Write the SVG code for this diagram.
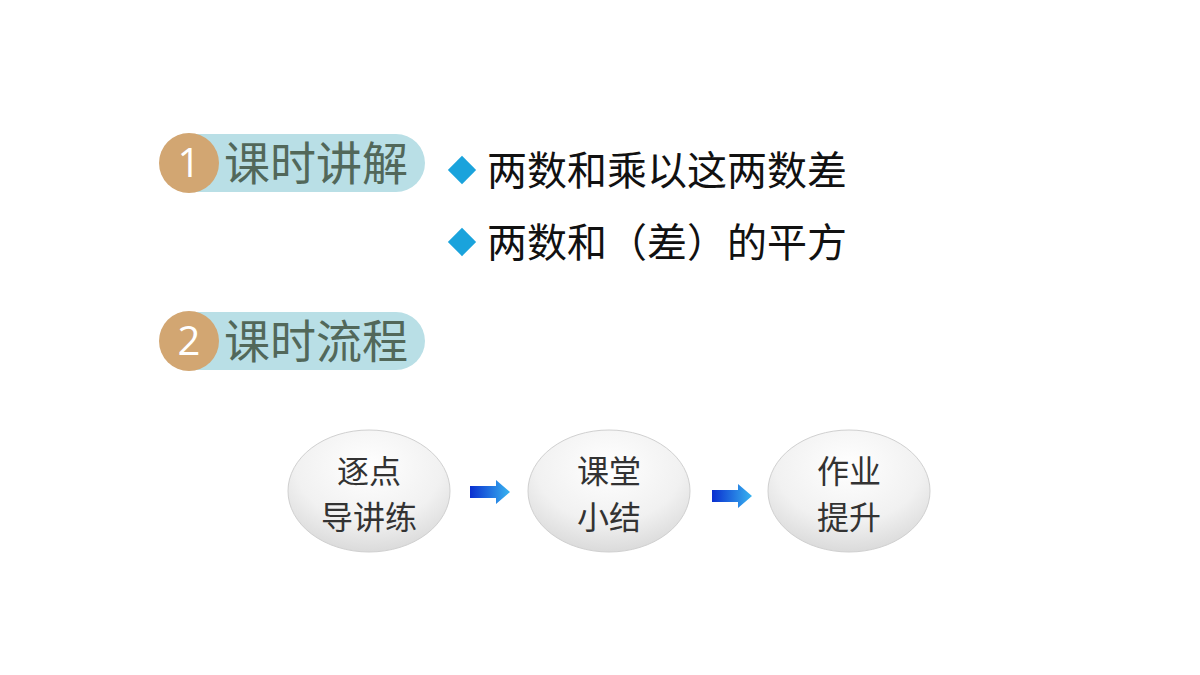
<svg xmlns="http://www.w3.org/2000/svg" width="1200" height="675" viewBox="0 0 1200 675">
<defs>
<style>
.cj{font-family:"Noto Sans CJK SC","Noto Sans",sans-serif}
.h{font-size:46px;fill:#52685a}
.num{font-family:"Open Sans","Liberation Sans",sans-serif;font-size:40px;fill:#fff}
.b{font-size:40px;fill:#111}
.n{font-size:32px;fill:#333;text-anchor:middle}
.pill{fill:#b9dfe6}
.circ{fill:#d2a672}
.dia{fill:#1aa3dc}
.ell{fill:url(#eg);stroke:#d0d0d0;stroke-width:1}
</style>
<radialGradient id="eg" cx="0.5" cy="0.3" r="0.75">
<stop offset="0" stop-color="#ffffff"/>
<stop offset="0.6" stop-color="#f1f1f1"/>
<stop offset="1" stop-color="#d6d6d6"/>
</radialGradient>
<linearGradient id="ag" x1="0" x2="1" y1="0" y2="0">
<stop offset="0" stop-color="#0a2fd0"/>
<stop offset="1" stop-color="#38b4f0"/>
</linearGradient>
<g id="arr"><path d="M0,-6 H26 V-12 L40,0 L26,12 V6 H0 Z" fill="url(#ag)"/></g>
</defs>
<rect width="1200" height="675" fill="#fff"/>
<g id="sec1">
<rect class="pill" x="165" y="134" width="260" height="58" rx="29"/>
<circle class="circ" cx="189" cy="163" r="30"/>
<text class="num" x="189" y="177" text-anchor="middle">1</text>
<text class="cj h" x="224" y="180">课时讲解</text>
</g>
<g id="bullets">
<rect class="dia" x="-10" y="-10" width="20" height="20" transform="translate(462,170) rotate(45)"/>
<text class="cj b" x="487" y="185">两数和乘以这两数差</text>
<rect class="dia" x="-10" y="-10" width="20" height="20" transform="translate(462,242) rotate(45)"/>
<text class="cj b" x="487" y="257">两数和（差）的平方</text>
</g>
<g id="sec2">
<rect class="pill" x="165" y="312" width="260" height="58" rx="29"/>
<circle class="circ" cx="189" cy="341" r="30"/>
<text class="num" x="189" y="355" text-anchor="middle">2</text>
<text class="cj h" x="224" y="358">课时流程</text>
</g>
<g id="n1"><ellipse class="ell" cx="369" cy="491" rx="81" ry="61"/>
<text class="cj n" x="369" y="483">逐点</text><text class="cj n" x="369" y="529">导讲练</text></g>
<g id="n2"><ellipse class="ell" cx="609" cy="491" rx="81" ry="61"/>
<text class="cj n" x="609" y="483">课堂</text><text class="cj n" x="609" y="529">小结</text></g>
<g id="n3"><ellipse class="ell" cx="849" cy="491" rx="81" ry="61"/>
<text class="cj n" x="849" y="483">作业</text><text class="cj n" x="849" y="529">提升</text></g>
<g id="connectors">
<use href="#arr" x="470" y="492"/>
<use href="#arr" x="712" y="496"/>
</g>
</svg>
